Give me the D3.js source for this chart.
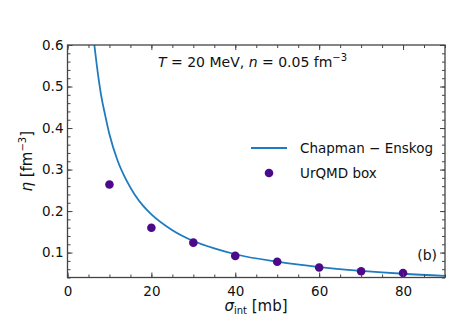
<!DOCTYPE html>
<html>
<head>
<meta charset="utf-8">
<script src="https://cdn.jsdelivr.net/npm/d3@7"></script>
<style>
  body { margin: 0; background: #fff; }
  text { font-family: "DejaVu Sans", sans-serif; fill: #111; }
</style>
</head>
<body>
<script>
// UrQMD box points
var sigmaPts = [10, 20, 30, 40, 50, 60, 70, 80];
var etaPts = [0.264, 0.160, 0.124, 0.092, 0.078, 0.064, 0.055, 0.051];

// Chapman-Enskog curve
var sigmaCE = [6.4, 7, 8, 9, 10, 12, 14, 16, 18, 20, 25, 30, 35, 40, 50, 60, 70, 80, 90];
var etaCE = [0.6, 0.55, 0.48, 0.43, 0.385, 0.32, 0.275, 0.24, 0.213, 0.192, 0.154, 0.128, 0.11, 0.096, 0.078, 0.065, 0.056, 0.049, 0.044];

var xTicks = [0, 20, 40, 60, 80];
var yTicks = [0.1, 0.2, 0.3, 0.4, 0.5, 0.6];

var w = 454, h = 323;
var pL = 67.5, pR = 445, pT = 45, pB = 277.5;

var svg = d3.select("body").append("svg")
    .attr("width", w)
    .attr("height", h);

var x = d3.scaleLinear().domain([0, 90]).range([pL, pR]);
var y = d3.scaleLinear().domain([0.04, 0.6]).range([pB, pT]);

svg.append("clipPath").attr("id", "clip")
    .append("rect")
    .attr("x", pL).attr("y", pT)
    .attr("width", pR - pL).attr("height", pB - pT);

// curve
var ce = sigmaCE.map(function(s, i) { return [s, etaCE[i]]; });
svg.append("path")
    .datum(ce)
    .attr("clip-path", "url(#clip)")
    .attr("fill", "none")
    .attr("stroke", "#1f7bc0")
    .attr("stroke-width", 1.8)
    .attr("d", d3.line()
        .x(function(d) { return x(d[0]); })
        .y(function(d) { return y(d[1]); })
        .curve(d3.curveMonotoneX));

// points
svg.selectAll("circle.pt")
    .data(sigmaPts)
    .enter()
    .append("circle")
    .attr("class", "pt")
    .attr("cx", function(d) { return x(d); })
    .attr("cy", function(d, i) { return y(etaPts[i]); })
    .attr("r", 4.3)
    .attr("fill", "#4b0a8a");

// axes with inward ticks on all sides
var axisColor = "#444";
function styleAxis(g) {
    g.select(".domain").remove();
    g.selectAll("line").attr("stroke", axisColor);
    g.selectAll("text").style("font-size", "13.5px").attr("fill", "#111");
}

svg.append("g").attr("transform", "translate(0," + pB + ")")
    .call(d3.axisBottom(x).tickValues(d3.range(0, 91, 5)).tickSize(-3).tickFormat(""))
    .call(styleAxis);
svg.append("g").attr("transform", "translate(0," + pB + ")")
    .call(d3.axisBottom(x).tickValues(xTicks).tickSize(-5).tickPadding(9).tickFormat(d3.format("d")))
    .call(styleAxis);
svg.append("g").attr("transform", "translate(0," + pT + ")")
    .call(d3.axisTop(x).tickValues(d3.range(0, 91, 5)).tickSize(-3).tickFormat(""))
    .call(styleAxis);
svg.append("g").attr("transform", "translate(0," + pT + ")")
    .call(d3.axisTop(x).tickValues(xTicks).tickSize(-5).tickFormat(""))
    .call(styleAxis);

var yMinor = d3.range(0.04, 0.601, 0.02);
svg.append("g").attr("transform", "translate(" + pL + ",0)")
    .call(d3.axisLeft(y).tickValues(yMinor).tickSize(-3).tickFormat(""))
    .call(styleAxis);
svg.append("g").attr("transform", "translate(" + pL + ",0)")
    .call(d3.axisLeft(y).tickValues(yTicks).tickSize(-5).tickPadding(4).tickFormat(d3.format(".1f")))
    .call(styleAxis);
svg.append("g").attr("transform", "translate(" + pR + ",0)")
    .call(d3.axisRight(y).tickValues(yMinor).tickSize(-3).tickFormat(""))
    .call(styleAxis);
svg.append("g").attr("transform", "translate(" + pR + ",0)")
    .call(d3.axisRight(y).tickValues(yTicks).tickSize(-5).tickFormat(""))
    .call(styleAxis);

// frame
svg.append("rect")
    .attr("x", pL).attr("y", pT)
    .attr("width", pR - pL).attr("height", pB - pT)
    .attr("fill", "none")
    .attr("stroke", axisColor)
    .attr("stroke-width", 1.3);

// axis labels
var xl = svg.append("text")
    .attr("x", 256).attr("y", 311)
    .attr("text-anchor", "middle")
    .style("font-size", "15px");
xl.append("tspan").attr("font-style", "italic").text("σ");
xl.append("tspan").attr("dy", 3).style("font-size", "10px").text("int");
xl.append("tspan").attr("dy", -3).text(" [mb]");

var yl = svg.append("text")
    .attr("transform", "translate(32," + ((pT + pB) / 2) + ") rotate(-90)")
    .attr("text-anchor", "middle")
    .style("font-size", "15px");
yl.append("tspan").attr("font-style", "italic").text("η");
yl.append("tspan").text(" [fm");
yl.append("tspan").attr("dy", -6).style("font-size", "10px").text("−3");
yl.append("tspan").attr("dy", 6).text("]");

// annotation
var ann = svg.append("text")
    .attr("x", 158).attr("y", 67)
    .style("font-size", "14px");
ann.append("tspan").attr("font-style", "italic").text("T");
ann.append("tspan").text(" = 20 MeV,  ");
ann.append("tspan").attr("font-style", "italic").text("n");
ann.append("tspan").text(" = 0.05 fm");
ann.append("tspan").attr("dy", -6).style("font-size", "10px").text("−3");

// legend
svg.append("line")
    .attr("x1", 251).attr("x2", 287).attr("y1", 148).attr("y2", 148)
    .attr("stroke", "#1f7bc0").attr("stroke-width", 1.8);
svg.append("text").attr("x", 300).attr("y", 153).style("font-size", "13.5px").text("Chapman − Enskog");
svg.append("circle").attr("cx", 269).attr("cy", 173).attr("r", 4.3).attr("fill", "#4b0a8a");
svg.append("text").attr("x", 300).attr("y", 178).style("font-size", "13.5px").text("UrQMD box");

svg.append("text").attr("x", 437).attr("y", 260).attr("text-anchor", "end")
    .style("font-size", "14px").text("(b)");
</script>
</body>
</html>
